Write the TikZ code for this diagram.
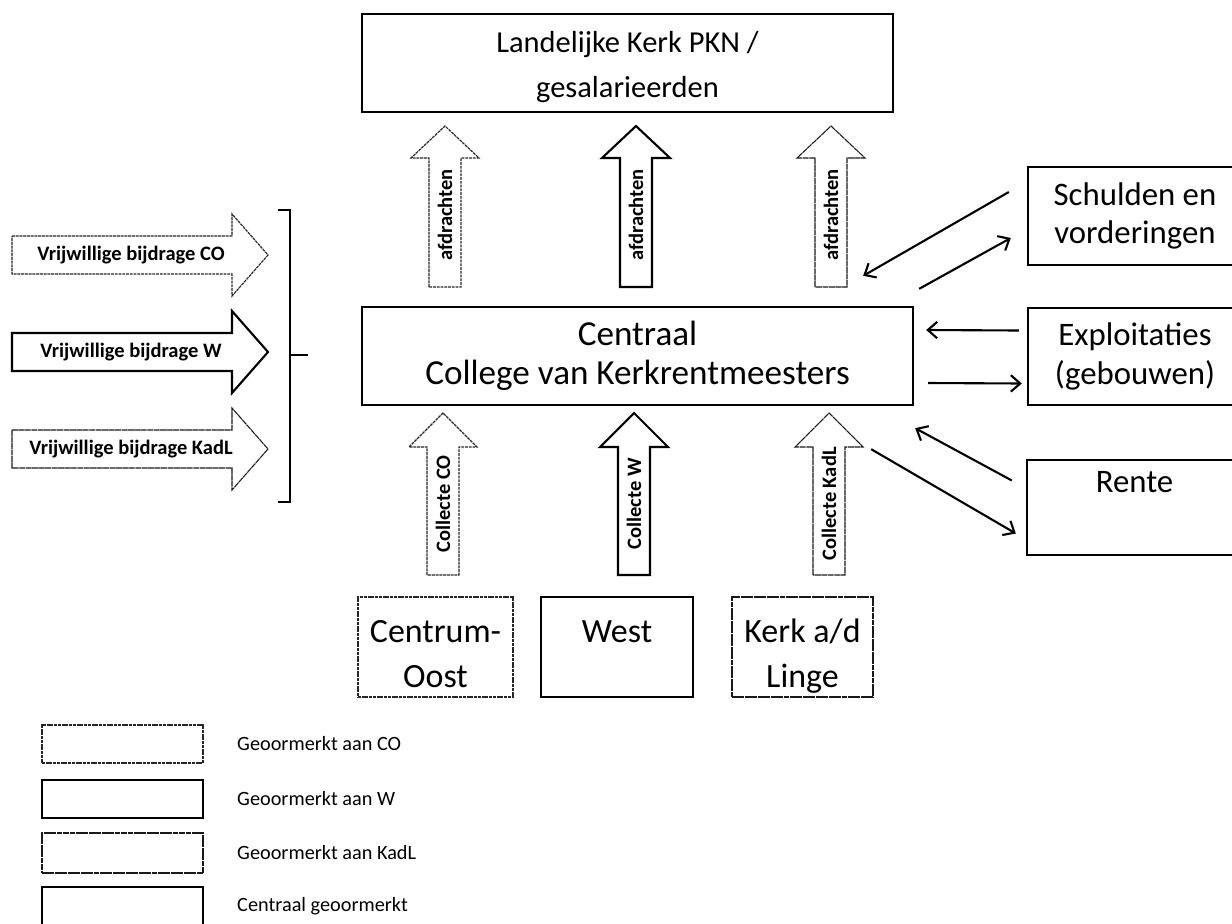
\documentclass[tikz,border=0pt]{standalone}
\usepackage{fontspec}
\setmainfont{Carlito}
\usetikzlibrary{arrows.meta,calc}
\newcommand{\upblock}[5]{\draw[#5] (#1-16,#4) -- (#1-16,#3) -- (#1-34,#3) -- (#1,#2) -- (#1+34,#3) -- (#1+16,#3) -- (#1+16,#4) -- cycle;}
\newcommand{\rightblock}[2]{\draw[#2] (12,#1-19) -- (232,#1-19) -- (232,#1-41) -- (268,#1) -- (232,#1+41) -- (232,#1+19) -- (12,#1+19) -- cycle;}
\begin{document}
\begin{tikzpicture}[x=0.03cm,y=-0.03cm,
  cobord/.style={draw=black!85, line width=1pt, dash pattern=on 2.5pt off 0.7pt, fill=white},
  wbord/.style={draw=black, line width=1.8pt, fill=white},
  kbord/.style={draw=black!90, line width=0.9pt, dash pattern=on 5pt off 0.5pt, fill=white},
  cbord/.style={draw=black, line width=2pt, fill=white},
  toptext/.style={inner sep=2pt, align=center, font=\fontsize{26}{38}\selectfont},
  centext/.style={inner sep=2pt, align=center, font=\fontsize{30}{33}\selectfont},
  sidetext/.style={inner sep=2pt, align=center, font=\fontsize{28}{33}\selectfont},
  loctext/.style={inner sep=2pt, align=center, font=\fontsize{29}{38.5}\selectfont},
  arrtext/.style={inner sep=0pt, font=\fontsize{17.5}{19}\selectfont\bfseries},
  legtext/.style={inner sep=0pt, anchor=west, font=\fontsize{17.3}{19}\selectfont},
  conn/.style={-{Straight Barb[length=8pt,width=14pt]}, line width=1.8pt},
  bracestyle/.style={line width=1.8pt}
]
\clip (0,0) rectangle (1232,923);
\fill[white] (0,0) rectangle (1232,923);

% main boxes
\node[cbord, minimum width=15.93cm, minimum height=2.94cm] (pkn) at (627.5,63) {};
\node[toptext] (pknT) at (627.5,67) {Landelijke Kerk PKN /\\gesalarieerden};
\node[cbord, centext, minimum width=16.53cm, minimum height=2.94cm] (cen) at (637.5,356) {Centraal\\College van Kerkrentmeesters};

% right boxes
\node[cbord, sidetext, minimum width=6.42cm, minimum height=2.94cm] (schulden) at (1135,216) {Schulden en\\vorderingen};
\node[cbord, sidetext, minimum width=6.42cm, minimum height=2.91cm] (expl) at (1135,356.5) {Exploitaties\\(gebouwen)};
\node[cbord, sidetext, minimum width=6.45cm, minimum height=2.85cm] (rente) at (1134.5,507.5) {Rente\\\strut};

% location boxes
\node[cobord, minimum width=4.65cm, minimum height=3cm] (co) at (435.5,647) {};
\node[wbord, minimum width=4.56cm, minimum height=3cm] (west) at (617,647) {};
\node[kbord, minimum width=4.23cm, minimum height=3cm] (kadl) at (802.5,647) {};
\node[loctext] (coT) at (435.5,656) {\strut Centrum-\\\strut Oost};
\node[loctext] (westT) at (617,656) {\strut West\\\strut};
\node[loctext] (kadlT) at (802.5,656) {\strut Kerk a/d\\\strut Linge};

% afdrachten arrows
\upblock{445}{126}{158}{287}{cobord}
\upblock{636}{126}{158}{287}{wbord}
\upblock{831}{126}{158}{287}{kbord}
\node[arrtext, rotate=90] (afd1) at (445,215) {afdrachten};
\node[arrtext, rotate=90] (afd2) at (636,215) {afdrachten};
\node[arrtext, rotate=90] (afd3) at (831,215) {afdrachten};

% collecte arrows
\upblock{443}{413}{447}{575}{cobord}
\upblock{634}{413}{447}{575}{wbord}
\upblock{829}{413}{447}{575}{kbord}
\node[arrtext, rotate=90] (col1) at (443,504) {Collecte CO};
\node[arrtext, rotate=90] (col2) at (634,504) {Collecte W};
\node[arrtext, rotate=90] (col3) at (829,504) {Collecte KadL};

% left arrows
\rightblock{255}{cobord}
\rightblock{352}{wbord}
\rightblock{449}{kbord}
\node[arrtext] (vb1) at (131,255) {Vrijwillige bijdrage CO};
\node[arrtext] (vb2) at (131,352) {Vrijwillige bijdrage W};
\node[arrtext] (vb3) at (131,449) {Vrijwillige bijdrage KadL};

% brace
\draw[bracestyle] (278,210) -- (290,210) -- (290,502) -- (278,502);
\draw[bracestyle] (290,355) -- (308,355);

% connectors
\draw[conn] ($(schulden.west)+(-18,-24)$) -- ($(cen.north east)+(-51,-30)$);
\draw[conn] ($(cen.north east)+(5,-17)$) -- ($(schulden.west)+(-16,22)$);
\draw[conn] ($(expl.west)+(-8,-26)$) -- ($(cen.east)+(12,-26)$);
\draw[conn] ($(cen.east)+(14,27)$) -- ($(expl.west)+(-5,27)$);
\draw[conn] ($(rente.west)+(-14,-27)$) -- ($(cen.south east)+(1,22)$);
\draw[conn] ($(cen.south east)+(-43,43)$) -- ($(rente.west)+(-10,26)$);

% legend
\node[cobord, minimum width=4.83cm, minimum height=1.14cm, inner sep=0pt] (lg1) at (122.5,744) {};
\node[wbord, minimum width=4.83cm, minimum height=1.14cm, inner sep=0pt] (lg2) at (122.5,799) {};
\node[kbord, minimum width=4.83cm, minimum height=1.2cm, inner sep=0pt] (lg3) at (122.5,853) {};
\node[cbord, minimum width=4.83cm, minimum height=1.2cm, inner sep=0pt] (lg4) at (122.5,907) {};
\node[legtext] (lt1) at (237,744) {Geoormerkt aan CO};
\node[legtext] (lt2) at (237,799) {Geoormerkt aan W};
\node[legtext] (lt3) at (237,853) {Geoormerkt aan KadL};
\node[legtext] (lt4) at (237,906) {Centraal geoormerkt};
\end{tikzpicture}
\end{document}
